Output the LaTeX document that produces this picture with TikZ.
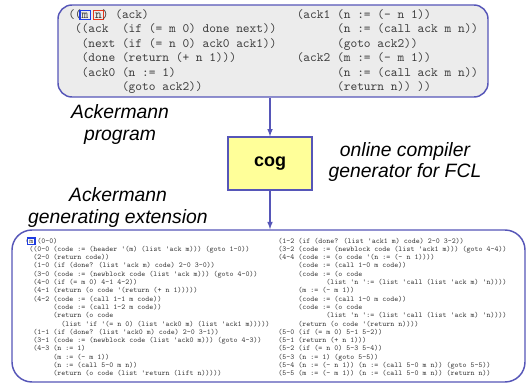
\documentclass[tikz,border=0pt]{standalone}
\usepackage{fontspec}
\setsansfont{Liberation Sans}
\usepackage{tikz}
\usetikzlibrary{positioning}

\definecolor{frameblue}{RGB}{86,86,184}
\definecolor{topfill}{RGB}{236,236,236}
\definecolor{cogfill}{RGB}{255,255,153}
\definecolor{codegray}{RGB}{60,60,60}
\definecolor{mblue}{RGB}{30,60,225}
\definecolor{nred}{RGB}{230,55,30}

% boxed variable, width kept as the bare letter
\newcommand{\hlbox}[3]{{\setlength{\fboxsep}{0.9pt}\setlength{\fboxrule}{0.8pt}\hspace{-1.7pt}\fcolorbox{#1}{#2}{#3}\hspace{-1.7pt}}}

\begin{document}
\begin{tikzpicture}[x=0.75pt,y=-0.75pt,
    codebox/.style={draw=frameblue, line width=1.1pt, inner sep=0pt},
    cogbox/.style={draw=frameblue, line width=0.9pt, fill=cogfill, minimum width=63pt, minimum height=39.75pt, font=\sffamily\bfseries\fontsize{13.5}{16}\selectfont},
    ital/.style={font=\sffamily\itshape\fontsize{14.5}{16.5}\selectfont, align=center},
    bigcode/.style={anchor=base west, inner sep=0pt, text=codegray, font=\ttfamily\fontsize{9.6}{10.9}\selectfont},
    smallcode/.style={anchor=base west, inner sep=0pt, text=codegray, font=\ttfamily\fontsize{5.66}{6.2}\selectfont},
    flow/.style={->, >=latex, draw=frameblue, line width=0.9pt}]
  \useasboundingbox (0,0) rectangle (528,385);

  % Draw boxes
  \node[codebox, fill=topfill, rounded corners=10.5pt, minimum width=322.5pt, minimum height=69pt] (prog) at (273,51) {};
  \node[cogbox] (cog) at (270,163.5) {cog};
  \node[codebox, fill=white, rounded corners=15pt, minimum width=384.75pt, minimum height=114pt] (genext) at (268.5,306) {};

  % Arrows
  \draw[flow] (cog.north |- prog.south) -- (cog.north);
  \draw[flow] (cog.south) -- (cog.south |- genext.north);

  % Captions
  \node[ital] (progname) at (120,125) {Ackermann\\program};
  \node[ital] (cogname) at (405,162) {online compiler\\generator for FCL};
  \node[ital] (genname) at (118,207) {Ackermann\\generating extension};

  % Ackermann program
  \foreach \i/\l/\r in {
    1/{((\hlbox{mblue}{topfill}{m} \hlbox{nred}{topfill}{n}) (ack)}/{(ack1 (n := (- n 1))},
    2/{~((ack~~(if (= m 0) done next))}/{~~~~~~(n := (call ack m n))},
    3/{~~(next (if (= n 0) ack0 ack1))}/{~~~~~~(goto ack2))},
    4/{~~(done (return (+ n 1)))}/{(ack2 (m := (- m 1))},
    5/{~~(ack0 (n := 1)}/{~~~~~~(n := (call ack m n))},
    6/{~~~~~~~~(goto ack2))}/{~~~~~~(return n)) ))}} {
    \node[bigcode] (pl\i) at (68,{18.2+14.46*(\i-1)}) {\l};
    \node[bigcode] (pr\i) at (296.5,{18.2+14.46*(\i-1)}) {\r};
  }

  % Ackermann generating extension
  \foreach \i/\l/\r in {
    1/{(\hlbox{mblue}{white}{m} (0-0)}/{(1-2 (if (done? (list 'ack1 m) code) 2-0 3-2))},
    2/{~((0-0 (code := (header '(m) (list 'ack m))) (goto 1-0))}/{(3-2 (code := (newblock code (list 'ack1 m))) (goto 4-4))},
    3/{~~(2-0 (return code))}/{(4-4 (code := (o code '(n := (- n 1))))},
    4/{~~(1-0 (if (done? (list 'ack m) code) 2-0 3-0))}/{~~~~~(code := (call 1-0 m code))},
    5/{~~(3-0 (code := (newblock code (list 'ack m))) (goto 4-0))}/{~~~~~(code := (o code},
    6/{~~(4-0 (if (= m 0) 4-1 4-2))}/{~~~~~~~~~~~~(list 'n ':= (list 'call (list 'ack m) 'n))))},
    7/{~~(4-1 (return (o code '(return (+ n 1)))))}/{~~~~~(m := (- m 1))},
    8/{~~(4-2 (code := (call 1-1 m code))}/{~~~~~(code := (call 1-0 m code))},
    9/{~~~~~~~(code := (call 1-2 m code))}/{~~~~~(code := (o code},
    10/{~~~~~~~(return (o code}/{~~~~~~~~~~~~(list 'n ':= (list 'call (list 'ack m) 'n))))},
    11/{~~~~~~~~~(list 'if '(= n 0) (list 'ack0 m) (list 'ack1 m)))))}/{~~~~~(return (o code '(return n))))},
    12/{~~(1-1 (if (done? (list 'ack0 m) code) 2-0 3-1))}/{(5-0 (if (= m 0) 5-1 5-2))},
    13/{~~(3-1 (code := (newblock code (list 'ack0 m))) (goto 4-3))}/{(5-1 (return (+ n 1)))},
    14/{~~(4-3 (n := 1)}/{(5-2 (if (= n 0) 5-3 5-4))},
    15/{~~~~~~~(m := (- m 1))}/{(5-3 (n := 1) (goto 5-5))},
    16/{~~~~~~~(n := (call 5-0 m n))}/{(5-4 (n := (- n 1)) (n := (call 5-0 m n)) (goto 5-5))},
    17/{~~~~~~~(return (o code (list 'return (lift n)))))}/{(5-5 (m := (- m 1)) (n := (call 5-0 m n)) (return n))}} {
    \node[smallcode] (gl\i) at (25,{243+8.3*(\i-1)}) {\l};
    \node[smallcode] (gr\i) at (278,{243+8.3*(\i-1)}) {\r};
  }
\end{tikzpicture}
\end{document}
